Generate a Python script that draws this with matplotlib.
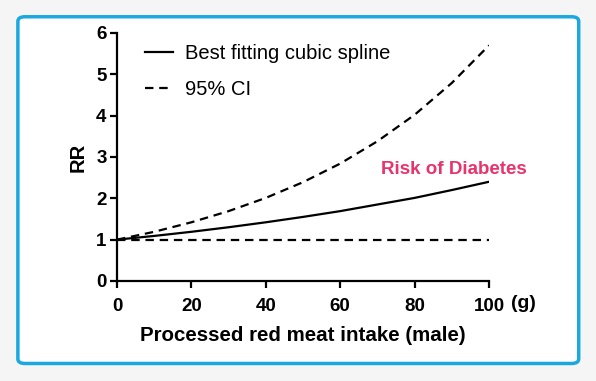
import numpy as np
import matplotlib
matplotlib.use("Agg")
import matplotlib.pyplot as plt
from matplotlib.patches import FancyBboxPatch

plt.rcParams['font.family'] = ['Liberation Sans', 'DejaVu Sans']

# intake in grams / relative risk
intake = [0, 10, 20, 30, 40, 50, 60, 70, 80, 90, 100]
rr_fit = [1.0, 1.09, 1.19, 1.30, 1.42, 1.55, 1.69, 1.85, 2.01, 2.20, 2.40]
rr_upper = [1.0, 1.19, 1.42, 1.69, 2.01, 2.39, 2.84, 3.38, 4.02, 4.79, 5.70]
rr_lower = [1.0, 1.0, 1.0, 1.0, 1.0, 1.0, 1.0, 1.0, 1.0, 1.0, 1.0]
xticks = [0, 20, 40, 60, 80, 100]
yticks = [0, 1, 2, 3, 4, 5, 6]

fig = plt.figure(figsize=(5.96, 3.81), dpi=100)
fig.patch.set_facecolor('#f5f5f5')

# white rounded panel with blue border
box = FancyBboxPatch((0.030, 0.046), 0.941, 0.910,
                     boxstyle="round,pad=0,rounding_size=0.012",
                     transform=fig.transFigure, facecolor='white',
                     edgecolor='#1ba8df', linewidth=2.5, zorder=-5)
fig.add_artist(box)

ax = fig.add_axes([0.1963, 0.2625, 0.6242, 0.651])
ax.patch.set_alpha(0)

ax.plot(intake, rr_fit, color='black', lw=1.6, label='Best fitting cubic spline')
ax.plot(intake, rr_upper, color='black', lw=1.6, dashes=(3.8, 2.6), label='95% CI')
ax.plot(intake, rr_lower, color='black', lw=1.6, dashes=(3.8, 2.6))

ax.set_xlim(0, 100)
ax.set_ylim(0, 6)
ax.set_xticks(xticks)
ax.set_yticks(yticks)
for s in ['top', 'right']:
    ax.spines[s].set_visible(False)
for s in ['left', 'bottom']:
    ax.spines[s].set_linewidth(1.6)
ax.tick_params(width=1.6, length=5, labelsize=13.5)
ax.tick_params(axis='x', pad=7)
ax.tick_params(axis='y', pad=2.5)
for lab in ax.get_xticklabels() + ax.get_yticklabels():
    lab.set_fontweight('bold')

ax.text(106, -0.55, '(g)', fontsize=14, fontweight='bold', ha='left', va='center')
ax.set_xlabel('Processed red meat intake (male)', fontsize=14.8, fontweight='bold', labelpad=8)
ax.set_ylabel('RR', fontsize=14.5, fontweight='bold', labelpad=6)

ax.text(71, 2.7, 'Risk of Diabetes', color='#e8336b', fontsize=13.5,
        fontweight='bold', ha='left', va='center')

ax.legend(loc='upper left', bbox_to_anchor=(0.075, 0.955), frameon=False,
          fontsize=14.5, handlelength=1.4, labelspacing=0.85, borderpad=0,
          borderaxespad=0, handletextpad=0.6)

fig.savefig('out.png', dpi=100, facecolor=fig.get_facecolor())
